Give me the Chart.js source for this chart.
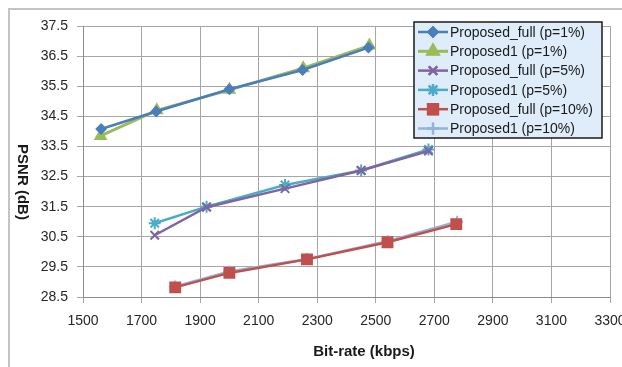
<!DOCTYPE html>
<html>
<head>
<meta charset="utf-8">
<script src="https://cdn.jsdelivr.net/npm/chart.js@4/dist/chart.umd.min.js"></script>
<style>
  html, body { margin: 0; padding: 0; background: #fff; }
  #wrap { width: 622px; height: 367px; position: relative; }
</style>
</head>
<body>
<div id="wrap"><canvas id="psnrChart"></canvas></div>
<script>
// Bit-rate (kbps) and PSNR (dB) per run
const seriesNames = [
  'Proposed_full (p=1%)', 'Proposed1 (p=1%)',
  'Proposed_full (p=5%)', 'Proposed1 (p=5%)',
  'Proposed_full (p=10%)', 'Proposed1 (p=10%)'
];
const full1Rate = [1562, 1750, 2000, 2250, 2475];
const full1Psnr = [34.08, 34.66, 35.40, 36.04, 36.78];
const prop1Rate = [1560, 1752, 2000, 2252, 2478];
const prop1Psnr = [33.85, 34.70, 35.38, 36.10, 36.85];
const full5Rate = [1745, 1922, 2190, 2450, 2680];
const full5Psnr = [30.55, 31.48, 32.10, 32.70, 33.35];
const prop5Rate = [1745, 1922, 2190, 2450, 2680];
const prop5Psnr = [30.95, 31.50, 32.22, 32.70, 33.40];
const full10Rate = [1815, 2000, 2265, 2540, 2775];
const full10Psnr = [28.82, 29.30, 29.75, 30.32, 30.92];
const prop10Rate = [1815, 2000, 2265, 2540, 2778];
const prop10Psnr = [28.85, 29.35, 29.76, 30.35, 31.00];
const xTicks = [1500, 1700, 1900, 2100, 2300, 2500, 2700, 2900, 3100, 3300];
const yTicks = [28.5, 29.5, 30.5, 31.5, 32.5, 33.5, 34.5, 35.5, 36.5, 37.5];
const xTitle = 'Bit-rate (kbps)';
const yTitle = 'PSNR (dB)';

const FONT = '"Liberation Sans", Arial, sans-serif';

function toPoints(xs, ys) {
  return xs.map((x, i) => ({ x: x, y: ys[i] }));
}

function makeSet(idx, xs, ys, color, style, radius, width) {
  return {
    label: seriesNames[idx],
    data: toPoints(xs, ys),
    showLine: true,
    borderColor: color,
    backgroundColor: color,
    pointBorderColor: color,
    pointBackgroundColor: color,
    borderWidth: width,
    pointStyle: style,
    pointRadius: radius,
    pointBorderWidth: 2,
    pointHoverRadius: radius
  };
}

// Outer chart frame (top and left edges) plus both axis titles
const framePlugin = {
  id: 'frame',
  beforeDraw(chart) {
    const ctx = chart.ctx;
    ctx.save();
    ctx.strokeStyle = '#c4c4c4';
    ctx.lineWidth = 2;
    ctx.beginPath();
    ctx.moveTo(9, 367);
    ctx.lineTo(9, 9);
    ctx.lineTo(622, 9);
    ctx.stroke();
    ctx.restore();
  },
  afterDraw(chart) {
    const ctx = chart.ctx;
    ctx.save();
    ctx.font = 'bold 15px ' + FONT;
    ctx.fillStyle = '#1a1a1a';
    ctx.textAlign = 'center';
    ctx.textBaseline = 'middle';
    ctx.fillText(xTitle, 364, 352);
    // y title reads top to bottom
    ctx.translate(22, 182);
    ctx.rotate(Math.PI / 2);
    ctx.fillText(yTitle, 0, 0);
    ctx.restore();
  }
};

// Legend box drawn inside the plot area, top right
const boxLegend = {
  id: 'boxLegend',
  afterDraw(chart) {
    const ctx = chart.ctx;
    const left = 414, top = 22, w = 188, h = 116;
    ctx.save();
    ctx.fillStyle = '#deedf9';
    ctx.fillRect(left, top, w, h);
    ctx.strokeStyle = '#1a1a1a';
    ctx.lineWidth = 1.5;
    ctx.strokeRect(left, top, w, h);
    ctx.font = '14px ' + FONT;
    ctx.textBaseline = 'middle';
    chart.data.datasets.forEach((ds, i) => {
      const y = top + 10 + i * 19.3;
      ctx.strokeStyle = ds.borderColor;
      ctx.lineWidth = ds.borderWidth;
      ctx.beginPath();
      ctx.moveTo(418, y);
      ctx.lineTo(448, y);
      ctx.stroke();
      Chart.helpers.drawPoint(ctx, {
        pointStyle: ds.pointStyle,
        radius: ds.pointRadius,
        borderWidth: ds.pointBorderWidth,
        rotation: 0
      }, 433, y);
      ctx.fillStyle = ds.borderColor;
      ctx.strokeStyle = ds.borderColor;
      ctx.lineWidth = ds.pointBorderWidth;
      if (ds.pointStyle !== 'cross' && ds.pointStyle !== 'crossRot' && ds.pointStyle !== 'star') ctx.fill();
      ctx.stroke();
      ctx.fillStyle = '#1a1a1a';
      ctx.fillText(ds.label, 450, y + 1);
    });
    ctx.restore();
  }
};

const ctx = document.getElementById('psnrChart').getContext('2d');
new Chart(ctx, {
  type: 'scatter',
  data: {
    datasets: [
      makeSet(0, full1Rate, full1Psnr, '#4a7ebb', 'rectRot', 4.5, 2.5),
      makeSet(1, prop1Rate, prop1Psnr, '#9bbb59', 'triangle', 6, 3),
      makeSet(2, full5Rate, full5Psnr, '#8064a2', 'crossRot', 6, 2.5),
      makeSet(3, prop5Rate, prop5Psnr, '#4bacc6', 'star', 6, 2.5),
      makeSet(4, full10Rate, full10Psnr, '#c0504d', 'rect', 7, 2.5),
      makeSet(5, prop10Rate, prop10Psnr, '#95b3d7', 'cross', 6, 2.5)
    ]
  },
  options: {
    responsive: true,
    maintainAspectRatio: false,
    animation: false,
    events: [],
    layout: { padding: { left: 0, top: 26, right: 12, bottom: 0 } },
    plugins: {
      legend: { display: false },
      tooltip: { enabled: false }
    },
    scales: {
      x: {
        type: 'linear',
        min: 1500,
        max: 3300,
        afterBuildTicks(scale) { scale.ticks = xTicks.map(v => ({ value: v })); },
        afterFit(scale) {
          scale.height = 70;
          scale.paddingLeft = 0;
          scale.paddingRight = 0;
        },
        grid: { color: '#a6a6a6', lineWidth: 1, tickLength: 6 },
        border: { color: '#8c8c8c', width: 1 },
        ticks: {
          color: '#262626',
          font: { family: FONT, size: 14 },
          padding: 10,
          maxRotation: 0,
          callback: v => String(v)
        },
        title: { display: false }
      },
      y: {
        type: 'linear',
        min: 28.5,
        max: 37.5,
        afterBuildTicks(scale) { scale.ticks = yTicks.map(v => ({ value: v })); },
        afterFit(scale) { scale.width = 83; },
        grid: { color: '#a6a6a6', lineWidth: 1, tickLength: 6 },
        border: { color: '#8c8c8c', width: 1 },
        ticks: {
          color: '#262626',
          font: { family: FONT, size: 14 },
          padding: 9,
          callback: v => v.toFixed(1)
        },
        title: { display: false }
      }
    }
  },
  plugins: [framePlugin, boxLegend]
});
</script>
</body>
</html>
